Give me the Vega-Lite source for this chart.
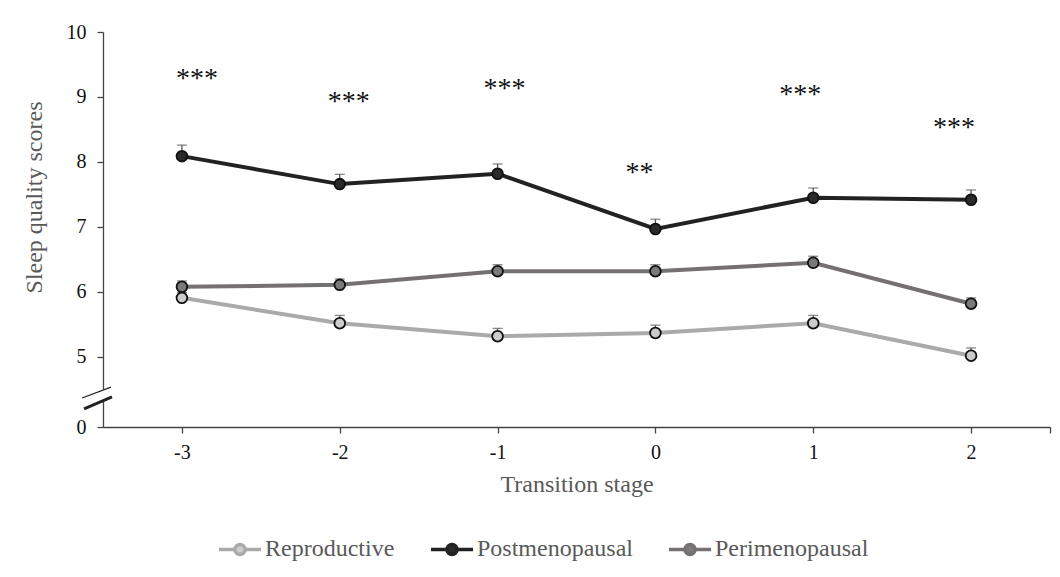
{
  "$schema": "https://vega.github.io/schema/vega-lite/v6.json",
  "width": 947,
  "height": 395,
  "autosize": "none",
  "padding": {"left": 103, "top": 32, "right": 10, "bottom": 150},
  "background": "white",
  "config": {
    "view": {"stroke": null},
    "font": "Liberation Serif",
    "axis": {"grid": false, "labelFont": "Liberation Serif", "titleFont": "Liberation Serif", "labelFontSize": 20, "titleFontSize": 24, "labelColor": "#111", "titleColor": "#595959", "titleFontWeight": "normal", "domainColor": "#444", "tickColor": "#444", "domainWidth": 1.3, "tickWidth": 1.3}
  },
  "datasets": {
    "series": [
      {"stage": -3, "group": "Reproductive", "score": 5.91, "se": 0.08},
      {"stage": -2, "group": "Reproductive", "score": 5.52, "se": 0.12},
      {"stage": -1, "group": "Reproductive", "score": 5.32, "se": 0.12},
      {"stage": 0, "group": "Reproductive", "score": 5.37, "se": 0.12},
      {"stage": 1, "group": "Reproductive", "score": 5.52, "se": 0.12},
      {"stage": 2, "group": "Reproductive", "score": 5.02, "se": 0.12},
      {"stage": -3, "group": "Postmenopausal", "score": 8.09, "se": 0.17},
      {"stage": -2, "group": "Postmenopausal", "score": 7.66, "se": 0.15},
      {"stage": -1, "group": "Postmenopausal", "score": 7.82, "se": 0.15},
      {"stage": 0, "group": "Postmenopausal", "score": 6.97, "se": 0.15},
      {"stage": 1, "group": "Postmenopausal", "score": 7.45, "se": 0.15},
      {"stage": 2, "group": "Postmenopausal", "score": 7.42, "se": 0.15},
      {"stage": -3, "group": "Perimenopausal", "score": 6.08, "se": 0.09},
      {"stage": -2, "group": "Perimenopausal", "score": 6.11, "se": 0.09},
      {"stage": -1, "group": "Perimenopausal", "score": 6.32, "se": 0.1},
      {"stage": 0, "group": "Perimenopausal", "score": 6.32, "se": 0.1},
      {"stage": 1, "group": "Perimenopausal", "score": 6.45, "se": 0.1},
      {"stage": 2, "group": "Perimenopausal", "score": 5.82, "se": 0.09}
    ],
    "stars": [
      {"stage": -2.905, "y": 9.37, "label": "***"},
      {"stage": -1.943, "y": 9.02, "label": "***"},
      {"stage": -0.956, "y": 9.22, "label": "***"},
      {"stage": -0.101, "y": 7.92, "label": "**"},
      {"stage": 0.918, "y": 9.12, "label": "***"},
      {"stage": 1.892, "y": 8.62, "label": "***"}
    ],
    "breaks": [
      {"x": -3.633, "y": 4.369, "x2": -3.449, "y2": 4.538, "kind": "thin"},
      {"x": -3.62, "y": 4.2, "x2": -3.443, "y2": 4.385, "kind": "thick"}
    ],
    "gap": [{"x": -3.5, "y": 4.34, "y2": 4.5}]
  },
  "layer": [
    {
      "data": {"name": "series"},
      "mark": {"type": "line", "strokeWidth": 4},
      "encoding": {
        "x": {"field": "stage", "type": "quantitative", "scale": {"domain": [-3.5, 2.5], "nice": false, "zero": false},
          "axis": {"title": "Transition stage", "values": [-3, -2, -1, 0, 1, 2, 2.5], "labelExpr": "datum.value > 2.4 ? '' : toString(datum.value)", "tickSize": 6, "labelPadding": 9, "titlePadding": 10}},
        "y": {"field": "score", "type": "quantitative", "scale": {"domain": [3.923, 10], "nice": false, "zero": false},
          "axis": {"title": "Sleep quality scores", "values": [3.923, 5, 6, 7, 8, 9, 10], "labelExpr": "datum.value < 4 ? '0' : toString(datum.value)", "tickSize": 6, "labelPadding": 11, "titlePadding": 20, "titleY": 165}},
        "stroke": {"field": "group", "type": "nominal",
          "scale": {"domain": ["Reproductive", "Postmenopausal", "Perimenopausal"], "range": ["#aaaaaa", "#222222", "#757171"]},
          "legend": {"title": null, "orient": "none", "legendX": 114, "legendY": 494, "direction": "horizontal",
            "labelFont": "Liberation Serif", "labelFontSize": 24, "labelColor": "#595959", "symbolType": "M-1,0H-0.24M0.24,0H1M-0.24,0A0.24,0.24 0 1,0 0.24,0A0.24,0.24 0 1,0 -0.24,0Z",
            "symbolSize": 1764, "symbolStrokeWidth": 3.5, "columnPadding": 29, "labelOffset": 2,
            "encode": {"symbols": {"update": {"fill": {"scale": "fill", "field": "value"}, "fillOpacity": {"value": 1}}}}}}
      }
    },
    {
      "data": {"name": "series"},
      "mark": {"type": "rule", "strokeWidth": 1.3, "color": "#555"},
      "encoding": {
        "x": {"field": "stage", "type": "quantitative"},
        "y": {"field": "score", "type": "quantitative"},
        "y2": {"field": "top"}
      },
      "transform": [{"calculate": "datum.score + datum.se", "as": "top"}]
    },
    {
      "data": {"name": "series"},
      "transform": [{"calculate": "datum.score + datum.se", "as": "top"}],
      "mark": {"type": "tick", "orient": "horizontal", "size": 10, "thickness": 1.3, "color": "#555"},
      "encoding": {
        "x": {"field": "stage", "type": "quantitative"},
        "y": {"field": "top", "type": "quantitative"}
      }
    },
    {
      "data": {"name": "series"},
      "mark": {"type": "point", "filled": true, "size": 115, "stroke": "#111", "strokeWidth": 1.8, "opacity": 1, "shape": "circle"},
      "encoding": {
        "x": {"field": "stage", "type": "quantitative"},
        "y": {"field": "score", "type": "quantitative"},
        "fill": {"field": "group", "type": "nominal",
          "scale": {"domain": ["Reproductive", "Postmenopausal", "Perimenopausal"], "range": ["#cccccc", "#2a2a2a", "#7a7a7a"]},
          "legend": null}
      }
    },
    {
      "data": {"name": "stars"},
      "mark": {"type": "text", "fontSize": 28, "font": "Liberation Serif", "color": "#111", "baseline": "middle", "align": "center", "dy": 6},
      "encoding": {
        "x": {"field": "stage", "type": "quantitative"},
        "y": {"field": "y", "type": "quantitative"},
        "text": {"field": "label"}
      }
    },
    {
      "data": {"name": "gap"},
      "mark": {"type": "rule", "color": "white", "strokeWidth": 5, "clip": false},
      "encoding": {
        "x": {"field": "x", "type": "quantitative"},
        "y": {"field": "y", "type": "quantitative"},
        "y2": {"field": "y2"}
      }
    },
    {
      "data": {"name": "breaks"},
      "mark": {"type": "rule", "color": "#222", "clip": false},
      "encoding": {
        "x": {"field": "x", "type": "quantitative"},
        "y": {"field": "y", "type": "quantitative"},
        "x2": {"field": "x2"},
        "y2": {"field": "y2"},
        "strokeWidth": {"field": "kind", "type": "nominal", "scale": {"domain": ["thin", "thick"], "range": [1.3, 3]}, "legend": null}
      }
    }
  ]
}
